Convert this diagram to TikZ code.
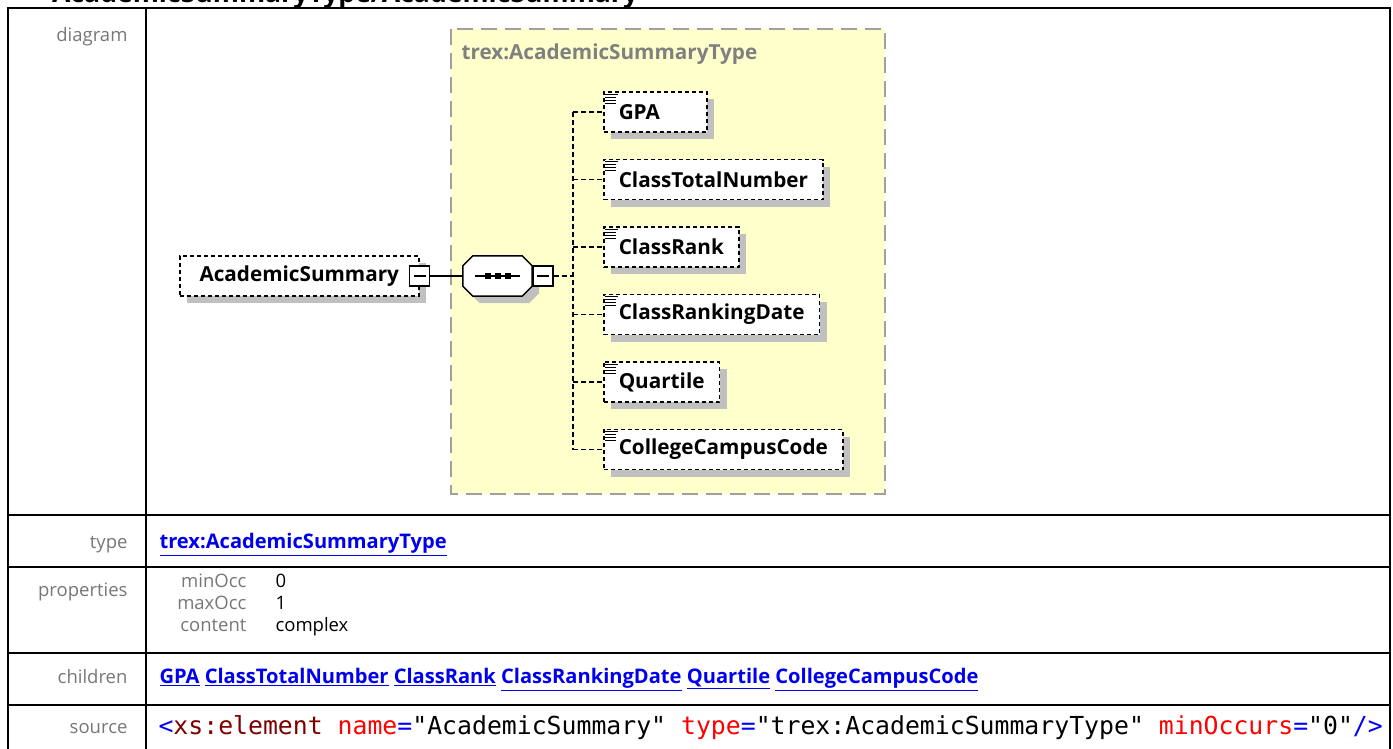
\documentclass[tikz,border=0pt]{standalone}
\usepackage{fontspec}
\setmainfont{Open Sans}
\setmonofont{DejaVu Sans Mono}
\usetikzlibrary{positioning,shadows}
\definecolor{lblgray}{HTML}{777777}
\definecolor{cpxfill}{HTML}{FFFFCC}
\definecolor{cpxline}{HTML}{A0A0A0}
\definecolor{shade}{HTML}{C0C0C0}
\definecolor{linkblue}{HTML}{0000EE}
\definecolor{srcblue}{HTML}{0000FF}
\definecolor{srcred}{HTML}{FF0000}
\definecolor{srcmaroon}{HTML}{800000}
\newcommand{\lnk}[1]{\underline{#1}}
% octagon round a node, corners cut by 10pt
\newcommand{\octagon}[1]{([xshift=10pt]#1.north west) -- ([xshift=-10pt]#1.north east) -- ([yshift=-10pt]#1.north east)
  -- ([yshift=10pt]#1.south east) -- ([xshift=-10pt]#1.south east) -- ([xshift=10pt]#1.south west)
  -- ([yshift=10pt]#1.south west) -- ([yshift=-10pt]#1.north west) -- cycle}

\begin{document}
\begin{tikzpicture}[x=1pt,y=-1pt,node distance=26pt,
    elem/.style={draw,fill=white,line width=1.5pt,dash pattern=on 4pt off 3pt,minimum height=40pt,inner xsep=15pt,
      font=\fontsize{20.7}{24}\selectfont\bfseries,general shadow={fill=shade,shadow xshift=7pt,shadow yshift=-7pt}},
    child/.style={elem,minimum width=103pt},
    minus/.style={draw,fill=white,line width=1.3pt,minimum size=20pt,inner sep=0,
      path picture={\draw[line width=1.3pt] ([xshift=4pt]path picture bounding box.west) -- ([xshift=-4pt]path picture bounding box.east);}},
    conn/.style={line width=1.5pt,dash pattern=on 5pt off 3pt},
    rowlbl/.style={anchor=mid east,text=lblgray,font=\fontsize{18.5}{22}\selectfont},
    txt/.style={anchor=mid west,font=\fontsize{18.5}{22}\selectfont},
    link/.style={anchor=mid west,text=linkblue,font=\fontsize{20.1}{24}\selectfont\bfseries}]
  \useasboundingbox (0,0) rectangle (1393,748);
  \clip (0,0) rectangle (1393,748);
  \fill[white] (0,0) rectangle (1393,748);
  \node (title) [anchor=base west,inner sep=0,font=\fontsize{26.6}{30}\selectfont\bfseries] at (52,2.5) {AcademicSummaryType/AcademicSummary};
  % table
  \draw[line width=2pt] (8,8) rectangle (1390,770);
  \draw[line width=2pt] (146,8) -- (146,770);
  \foreach \y in {515,567,653,705} \draw[line width=2pt] (8,\y) -- (1390,\y);
  \node (rdiag) [rowlbl] at (131,39) {diagram};
  \node (rtype) [rowlbl] at (131,546) {type};
  \node (rprop) [rowlbl] at (131,594) {properties};
  \node (rchild) [rowlbl] at (131,681) {children};
  \node (rsrc) [rowlbl] at (131,731) {source};
  % complex type
  \draw[draw=cpxline,fill=cpxfill,line width=1.5pt,dash pattern=on 16pt off 8pt] (451,29) rectangle (885,494);
  \node (cpxlbl) [anchor=mid west,text=gray,font=\fontsize{20.7}{24}\selectfont\bfseries] at (458,57) {trex:AcademicSummaryType};
  % element and sequence
  \node (acs) [elem,anchor=west,minimum width=239pt] at (179,276) {AcademicSummary};
  \node (acsbox) [minus] at (acs.east) {};
  \node (seq) [minimum width=69pt,minimum height=40pt,inner sep=0] at (497.5,276) {};
  \draw[fill=white,line width=1.5pt,general shadow={fill=shade,shadow xshift=7pt,shadow yshift=-7pt}] \octagon{seq};
  \draw[line width=1.3pt] ([xshift=12pt]seq.west) -- ([xshift=-12pt]seq.east);
  \foreach \dx in {-10,0,10} \fill ([xshift=\dx pt]seq.center) +(-3,-3) rectangle +(3,3);
  \node (seqbox) [minus,right=0pt of seq] {};
  \draw[line width=1.5pt] (acsbox) -- (seq);
  % children
  \node (gpa) [child,anchor=west,text width=73pt,align=left] at (603,112) {GPA};
  \node (ctn) [child,below=of gpa.south west,anchor=north west] {ClassTotalNumber};
  \node (crank) [child,below=of ctn.south west,anchor=north west] {ClassRank};
  \node (crdate) [child,below=of crank.south west,anchor=north west] {ClassRankingDate};
  \node (quart) [child,below=of crdate.south west,anchor=north west] {Quartile};
  \node (ccc) [child,below=of quart.south west,anchor=north west] {CollegeCampusCode};
  \foreach \n in {gpa,ctn,crank,crdate,quart,ccc}
    \foreach \dy/\w in {3/13,6/11,9/11,12/11} \draw[line width=1.1pt] ([xshift=2pt,yshift=-\dy pt]\n.north west) -- ++(\w,0);
  \coordinate (trunk) at (573,276);
  \draw[conn] (seqbox) -- (trunk);
  \draw[conn] (trunk |- gpa.west) -- (trunk |- ccc.west);
  \foreach \n in {gpa,ctn,crank,crdate,quart,ccc} \draw[conn] (trunk |- \n.west) -- (\n.west);
  % rows
  \node (typelink) [link] at (156,546) {\lnk{trex:AcademicSummaryType}};
  \node (minocc) [rowlbl] at (250,585) {minOcc};
  \node (maxocc) [rowlbl] at (250,607) {maxOcc};
  \node (content) [rowlbl] at (250,629) {content};
  \node (minoccv) [txt] at (272,585) {0};
  \node (maxoccv) [txt] at (272,607) {1};
  \node (contentv) [txt] at (272,629) {complex};
  \node (childlinks) [link] at (156,681) {\lnk{GPA} \lnk{ClassTotalNumber} \lnk{ClassRank} \lnk{ClassRankingDate} \lnk{Quartile} \lnk{CollegeCampusCode}};
  \node (srcline) [anchor=mid west,font=\fontsize{24.8}{28}\ttfamily] at (155,732)
    {{\color{srcblue}<}{\color{srcmaroon}xs:element} {\color{srcred}name}{\color{srcblue}=}"AcademicSummary" {\color{srcred}type}{\color{srcblue}=}"trex:AcademicSummaryType" {\color{srcred}minOccurs}{\color{srcblue}=}"0"{\color{srcblue}/>}};
\end{tikzpicture}
\end{document}
